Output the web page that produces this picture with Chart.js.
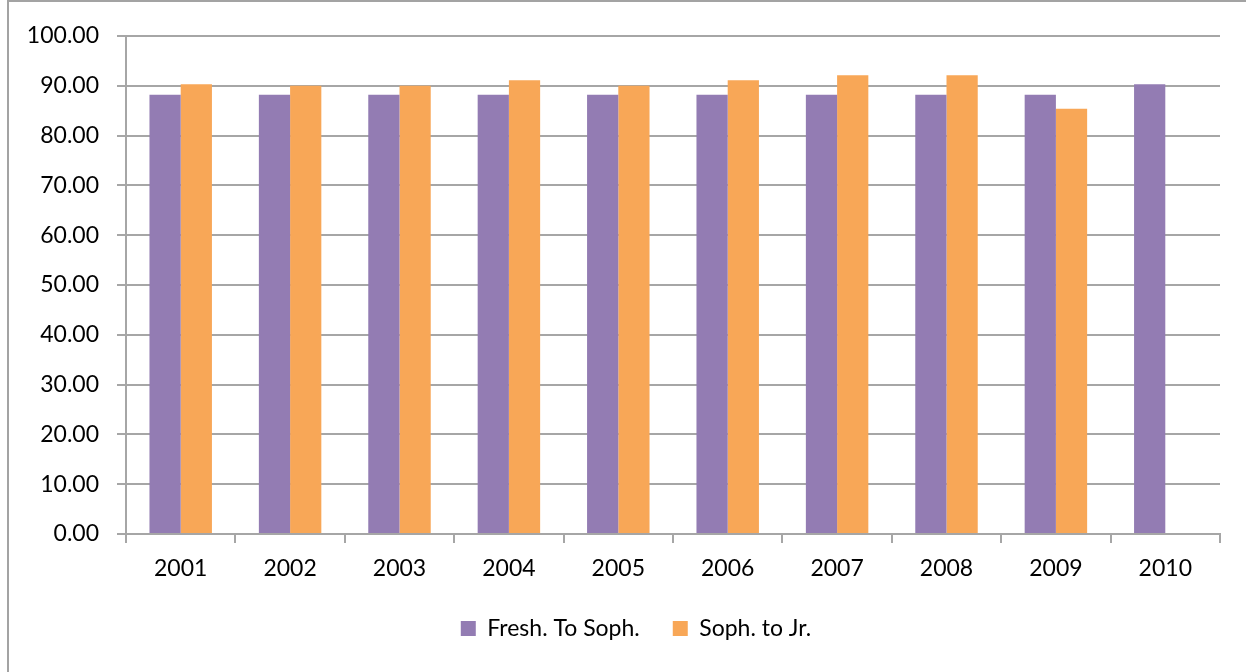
<!DOCTYPE html>
<html>
<head>
<meta charset="utf-8">
<script src="https://cdn.jsdelivr.net/npm/chart.js@4.4.0/dist/chart.umd.min.js"></script>
<style>
  html, body { margin: 0; padding: 0; background: #fff; overflow: hidden; }
  #marco { position: absolute; left: 7px; top: 0px; width: 1300px; height: 700px; border: 2px solid #a3a3a3; }
  #caja { position: absolute; left: 0; top: 0; width: 1246px; height: 672px; }
</style>
</head>
<body>
<div id="marco"></div>
<div id="caja"><canvas id="chart" width="1246" height="672"></canvas></div>
<script>
const anios = ['2001','2002','2003','2004','2005','2006','2007','2008','2009','2010']
const freshToSoph = [88.2, 88.2, 88.2, 88.2, 88.2, 88.2, 88.2, 88.2, 88.2, 90.3]
const sophToJr = [90.3, 90.0, 90.0, 91.1, 90.0, 91.1, 92.1, 92.1, 85.4, null]
const ticksY = [0, 10, 20, 30, 40, 50, 60, 70, 80, 90, 100]

const gris = '#a6a6a6'
const fuente = { family: 'Lato', size: 23 }

Chart.defaults.font.family = 'Lato'
Chart.defaults.color = '#000'

// corre la leyenda a la derecha y un poco arriba, como en el original
const moverLeyenda = {
    id: 'moverLeyenda',
    afterLayout(chart){
        const l = chart.legend
        l.left += 26
        l.right += 26
        l.top -= 12
        l.bottom -= 12
    }
}

const ctx = document.getElementById('chart')
new Chart(ctx, {
    type: 'bar',
    data: {
        labels: anios,
        datasets: [{
            label: 'Fresh. To Soph.',
            data: freshToSoph,
            backgroundColor: '#937cb3',
            categoryPercentage: 0.571,
            barPercentage: 1.0
        },{
            label: 'Soph. to Jr.',
            data: sophToJr,
            backgroundColor: '#f8a757',
            categoryPercentage: 0.571,
            barPercentage: 1.0
        }]
    },
    options: {
        responsive: false,
        animation: false,
        layout: { padding: { top: 36, right: 26, bottom: 10, left: 0 } },
        plugins: {
            tooltip: { enabled: false },
            legend: {
                position: 'bottom',
                labels: {
                    font: fuente,
                    boxWidth: 15,
                    boxHeight: 15,
                    padding: 33
                }
            }
        },
        scales: {
            x: {
                grid: { display: true, drawOnChartArea: false, color: gris, lineWidth: 2, tickLength: 9, offset: true },
                border: { color: gris, width: 2 },
                ticks: { font: fuente, padding: 12 },
                afterFit: s => { s.height = 62 }
            },
            y: {
                min: 0,
                max: 100,
                afterBuildTicks: s => { s.ticks = ticksY.map(v => ({ value: v })) },
                grid: { color: gris, lineWidth: 2, tickLength: 9 },
                border: { color: gris, width: 2 },
                ticks: { font: fuente, padding: 18, callback: v => Number(v).toFixed(2) },
                afterFit: s => { s.width = 126 }
            }
        }
    },
    plugins: [moverLeyenda]
})
</script>
</body>
</html>
